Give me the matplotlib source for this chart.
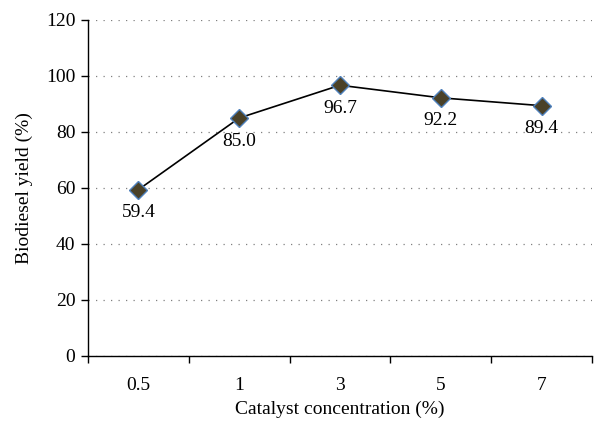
import matplotlib.pyplot as plt
from matplotlib.ticker import FixedLocator

# Data
concentrations = ['0.5', '1', '3', '5', '7']
yields = [59.4, 85.0, 96.7, 92.2, 89.4]

plt.rcParams['font.family'] = ['Liberation Serif', 'DejaVu Serif']

fig = plt.figure(figsize=(6.01, 4.21), dpi=100)
ax = fig.add_axes([0.1464, 0.1544, 0.8386, 0.7981])

x = list(range(len(concentrations)))
ax.plot(x, yields, color='black', linewidth=1.2, marker='D', markersize=9.5,
        markerfacecolor='#4a4128', markeredgecolor='#4f81bd', markeredgewidth=1.0, zorder=3)

for xi, yi in zip(x, yields):
    ax.annotate(f'{yi:.1f}', (xi, yi), xytext=(0, -10.5), textcoords='offset points',
                ha='center', va='top', fontsize=14)

ax.set_xlim(-0.5, len(concentrations) - 0.5)
ax.set_ylim(0, 120)
ax.set_yticks(range(0, 121, 20))
ax.set_xticks(x)
ax.set_xticklabels(concentrations)
ax.xaxis.set_minor_locator(FixedLocator([i - 0.5 for i in range(len(concentrations) + 1)]))
ax.tick_params(axis='x', which='major', length=0, pad=15, labelsize=14)
ax.tick_params(axis='x', which='minor', length=5, width=1, direction='out')
ax.tick_params(axis='y', length=5, width=1, direction='out', labelsize=14, pad=4)

ax.grid(axis='y', linestyle=(0, (1, 5)), color='#808080', linewidth=0.9)
ax.set_axisbelow(True)
for s in ['top', 'right']:
    ax.spines[s].set_visible(False)
for s in ['left', 'bottom']:
    ax.spines[s].set_linewidth(1.0)

ax.set_xlabel('Catalyst concentration (%)', fontsize=14, labelpad=5)
ax.set_ylabel('Biodiesel yield (%)', fontsize=14, labelpad=9)

fig.savefig('out.png', dpi=100)
